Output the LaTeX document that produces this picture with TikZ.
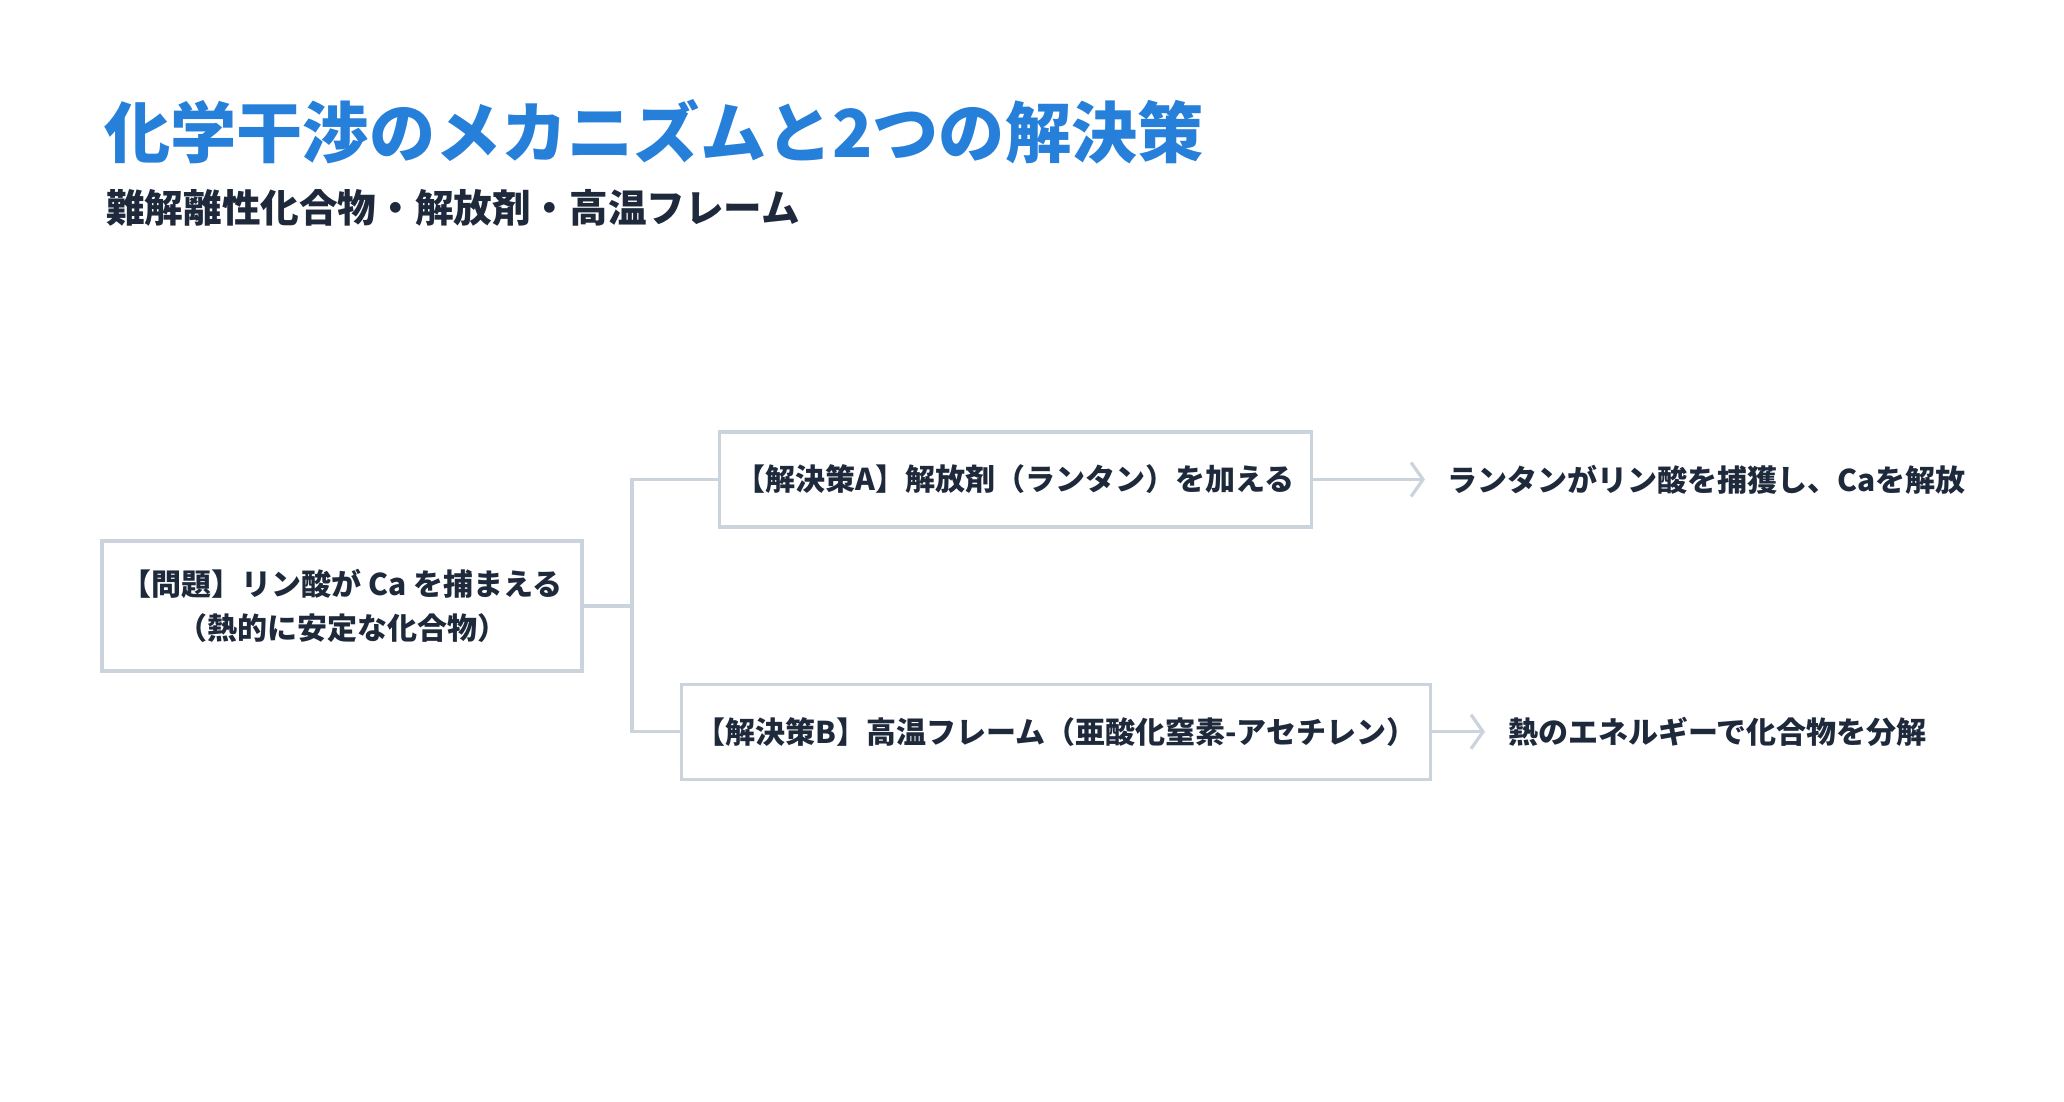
\documentclass[tikz,border=0pt]{standalone}
\usepackage{fontspec}
\setmainfont{Noto Sans CJK JP}
\usetikzlibrary{arrows.meta}
\definecolor{titleblue}{RGB}{38,127,217}
\definecolor{ink}{RGB}{30,41,59}
\definecolor{edge}{RGB}{203,211,221}
\tikzset{
  box/.style={draw=edge, line width=3.2pt, fill=white, inner sep=0pt, text=ink,
    font=\fontsize{30}{44}\selectfont\bfseries, align=center},
  conn/.style={draw=edge, line width=3.2pt},
  arr/.style={draw=edge, line width=3.2pt, -{Straight Barb[length=12pt,width=34pt,line width=3.2pt]}},
  result/.style={anchor=west, inner sep=0pt, text=ink, font=\fontsize{30}{44}\selectfont\bfseries},
}
\begin{document}
\begin{tikzpicture}[x=1pt,y=-1pt]
\useasboundingbox[fill=white] (0,0) rectangle (2064,1101);
\node[anchor=base west, inner sep=0pt, text=titleblue, font=\fontsize{66.2}{80}\selectfont\bfseries] (title) at (104,157) {化学干渉のメカニズムと2つの解決策};
\node[anchor=base west, inner sep=0pt, text=ink, font=\fontsize{38.6}{48}\selectfont\bfseries] (sub) at (106,222) {難解離性化合物・解放剤・高温フレーム};

\node[box, minimum width=480pt, minimum height=130pt] (P) at (342,606) {【問題】リン酸が Ca を捕まえる\\（熱的に安定な化合物）};
\node[box, minimum width=592pt, minimum height=95pt] (A) at (1015.4,479.5) {【解決策A】解放剤（ランタン）を加える};
\node[box, minimum width=749pt, minimum height=95pt] (B) at (1055.9,731.7) {【解決策B】高温フレーム（亜酸化窒素-アセチレン）};

\coordinate (J) at (632,606);
\draw[conn] (P.east) -- (J);
\draw[conn] (A.west) -| (J) |- (B.west);

\node[result] (RA) at (1447,479.5) {ランタンがリン酸を捕獲し、Caを解放};
\node[result] (RB) at (1508,731.7) {熱のエネルギーで化合物を分解};

\draw[arr] (A.east) -- ([xshift=-22pt]RA.west);
\draw[arr] (B.east) -- ([xshift=-23pt]RB.west);
\end{tikzpicture}
\end{document}
